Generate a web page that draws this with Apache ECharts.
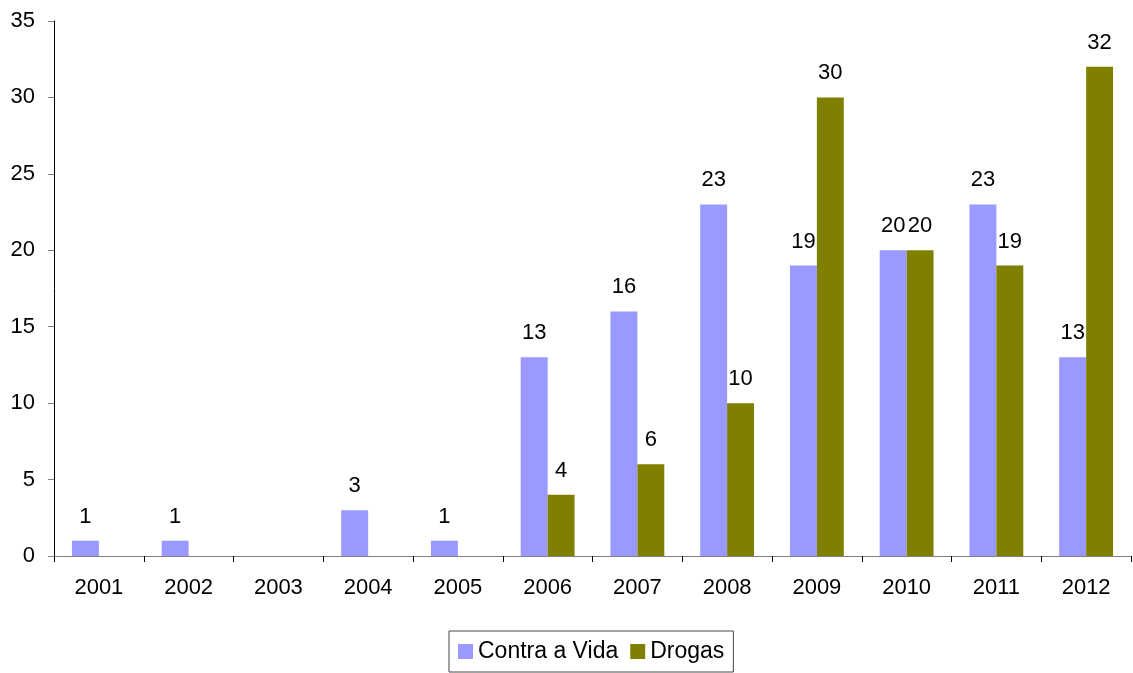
<!DOCTYPE html>
<html>
<head>
<meta charset="utf-8">
<script src="https://cdn.jsdelivr.net/npm/echarts@6/dist/echarts.min.js"></script>
<style>
  html, body { margin: 0; padding: 0; background: #fff; }
  #chart { width: 1133px; height: 673px; }
</style>
</head>
<body>
<div id="chart"></div>
<script>
// Years on the category axis
const years = ['2001', '2002', '2003', '2004', '2005', '2006', '2007', '2008', '2009', '2010', '2011', '2012'];
// Counts per year (null = no bar drawn)
const contraAVida = [1, 1, null, 3, 1, 13, 16, 23, 19, 20, 23, 13];
const drogas = [null, null, null, null, null, 4, 6, 10, 30, 20, 19, 32];
// Value axis range
const yMin = 0, yMax = 35, yStep = 5;

const font = 'Liberation Sans, Arial, sans-serif';
const chart = echarts.init(document.getElementById('chart'), null, { renderer: 'canvas' });

const labelStyle = {
  show: true,
  position: 'top',
  distance: 13,
  color: '#000',
  fontSize: 22,
  fontFamily: font
};

chart.setOption({
  animation: false,
  backgroundColor: '#fff',
  grid: { left: 54, right: 2, top: 21, bottom: 117, containLabel: false },
  legend: {
    left: 449,
    top: 631,
    orient: 'horizontal',
    itemWidth: 15,
    itemHeight: 15,
    itemGap: 12,
    padding: [9, 9, 9, 9],
    borderColor: '#444',
    borderWidth: 1,
    icon: 'rect',
    textStyle: { color: '#000', fontSize: 23, lineHeight: 23, fontFamily: font },
    data: ['Contra a Vida', 'Drogas']
  },
  xAxis: {
    type: 'category',
    data: years,
    axisLine: { lineStyle: { color: '#808080', width: 1 } },
    axisTick: { show: true, length: 6, inside: false, lineStyle: { color: '#000' } },
    axisLabel: { color: '#000', fontSize: 22, fontFamily: font, margin: 21 },
    splitLine: { show: false }
  },
  yAxis: {
    type: 'value',
    min: yMin,
    max: yMax,
    interval: yStep,
    axisLine: { show: true, lineStyle: { color: '#000', width: 1 } },
    axisTick: { show: true, length: 6, lineStyle: { color: '#808080' } },
    axisLabel: { color: '#000', fontSize: 22, fontFamily: font, margin: 19 },
    splitLine: { show: false }
  },
  series: [
    {
      name: 'Contra a Vida',
      type: 'bar',
      data: contraAVida,
      barGap: '0%',
      barCategoryGap: '40%',
      itemStyle: { color: '#9999FF' },
      label: labelStyle
    },
    {
      name: 'Drogas',
      type: 'bar',
      data: drogas,
      barGap: '0%',
      barCategoryGap: '40%',
      itemStyle: { color: '#808000' },
      label: labelStyle
    }
  ]
});
</script>
</body>
</html>
